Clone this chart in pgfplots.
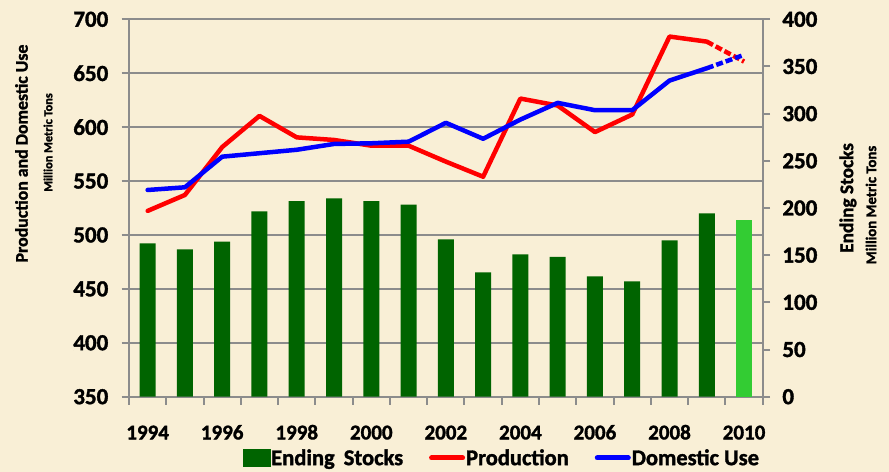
\documentclass[border=0pt]{standalone}
\usepackage{fontspec}
\setmainfont{Carlito}[BoldFont={Carlito Bold}, BoldFeatures={FakeBold=1.5}]
\usepackage{pgfplots}
\pgfplotsset{compat=1.18}
\definecolor{bg}{HTML}{F9EFD6}
\definecolor{gridgray}{HTML}{8C8C8C}
\definecolor{dkgreen}{HTML}{006400}
\definecolor{ltgreen}{HTML}{33CC33}
\pgfplotsset{
  base/.style={
    scale only axis, width=633.7bp, height=377.4bp,
    at={(129bp,75.3bp)}, anchor=south west,
    xmin=1993.5, xmax=2010.5,
    tick align=outside,
    major tick length=7.5bp,
    minor tick length=8bp,
    axis line style={gridgray, line width=2bp},
    every tick/.style={gridgray, line width=2bp},
    /pgf/number format/assume math mode=true,
    /pgf/number format/1000 sep={},
    clip=false,
  }
}
\pgfplotstableread{
year stocks prod use
1994 162.6 522.3 541.7
1995 156.2 537.1 544.2
1996 164.3 581.5 572.6
1997 196.5 610.4 575.8
1998 207.4 590.5 579.0
1999 210.3 588.1 584.4
2000 207.4 582.8 585.0
2001 203.5 582.8 586.5
2002 166.8 568.0 604.0
2003 131.8 554.0 589.2
2004 150.9 626.5 607.0
2005 148.1 620.0 622.5
2006 127.6 595.4 615.7
2007 122.3 611.7 615.7
2008 165.8 684.0 643.2
2009 194.4 679.3 654.6
}\maindata
\begin{document}
\begin{tikzpicture}
\fill[bg] (0,0) rectangle (889bp,472bp);
% grid / left axis / x axis
\begin{axis}[base,
  ymin=350, ymax=700, ytick={350,400,...,700},
  ymajorgrids, grid style={gridgray, line width=2bp},
  axis y line*=left, axis x line*=bottom,
  xtick={1994,1995,...,2010},
  xticklabels={1994,,1996,,1998,,2000,,2002,,2004,,2006,,2008,,2010},
  major x tick style={draw=none},
  minor xtick={1993.5,1994.5,...,2010.5},
  xticklabel style={font=\fontsize{21bp}{21bp}\selectfont\bfseries, anchor=north, inner sep=0pt, text height=14bp, text depth=0pt, yshift=-21bp},
  yticklabel style={font=\fontsize{23bp}{23bp}\selectfont\bfseries, anchor=east, inner sep=0pt, xshift=-13bp},
]
\addplot[draw=none, forget plot] coordinates {(1994,400)};
\end{axis}
% bars / right axis
\begin{axis}[base,
  ymin=0, ymax=400, ytick={0,50,...,400},
  axis y line*=right, axis x line=none,
  yticklabel style={font=\fontsize{23bp}{23bp}\selectfont\bfseries, anchor=west, inner sep=0pt, xshift=12bp},
]
\addplot[ybar, bar width=16bp, bar shift=0pt, fill=dkgreen, draw=none] table[x=year, y=stocks] {\maindata};
\addplot[ybar, bar width=16bp, bar shift=0pt, fill=ltgreen, draw=none] coordinates {(2010,187.3)};
\end{axis}
% lines
\begin{axis}[base, hide axis,
  ymin=350, ymax=700,
  legend columns=3,
  legend style={draw=none, fill=none, at={(0.5878,-0.1624)}, anchor=center,
    font=\fontsize{22.5bp}{25bp}\selectfont\bfseries,
    nodes={inner sep=1bp},
    /tikz/every even column/.append style={column sep=25bp}},
]
\addlegendimage{legend image code/.code={\fill[dkgreen] (0bp,-8.5bp) rectangle (27bp,8.5bp);}}
\addlegendentry{Ending\hspace{4bp} Stocks}
\addplot[red, line width=4.5bp, line join=round, line cap=round,
  legend image code/.code={\draw[red, line width=5bp] (0bp,0bp) -- (31bp,0bp);}]
  table[x=year, y=prod] {\maindata};
\addlegendentry{Production}
\addplot[blue, line width=4.5bp, line join=round, line cap=round,
  legend image code/.code={\draw[blue, line width=5bp] (0bp,0bp) -- (31bp,0bp);}]
  table[x=year, y=use] {\maindata};
\addlegendentry{Domestic Use}
\addplot[red, line width=4.5bp, dash pattern=on 7bp off 3bp, forget plot] coordinates {(2009,679.3) (2010,660.8)};
\addplot[blue, line width=4.5bp, dash pattern=on 7bp off 3bp, forget plot] coordinates {(2009,654.6) (2010,667.0)};
\end{axis}
\node[rotate=90, font=\fontsize{17.8bp}{18bp}\selectfont\bfseries] at (21.5bp,318.5bp) {Production and Domestic Use};
\node[rotate=90, font=\fontsize{12.3bp}{13bp}\selectfont\bfseries] at (48bp,329.5bp) {Million Metric Tons};
\node[rotate=90, font=\fontsize{19.3bp}{20bp}\selectfont\bfseries] at (848bp,274bp) {Ending Stocks};
\node[rotate=90, font=\fontsize{14.8bp}{16bp}\selectfont\bfseries] at (871bp,267bp) {Million Metric Tons};
\pgfresetboundingbox
\path[use as bounding box] (0,0) rectangle (889bp,472bp);
\end{tikzpicture}
\end{document}
